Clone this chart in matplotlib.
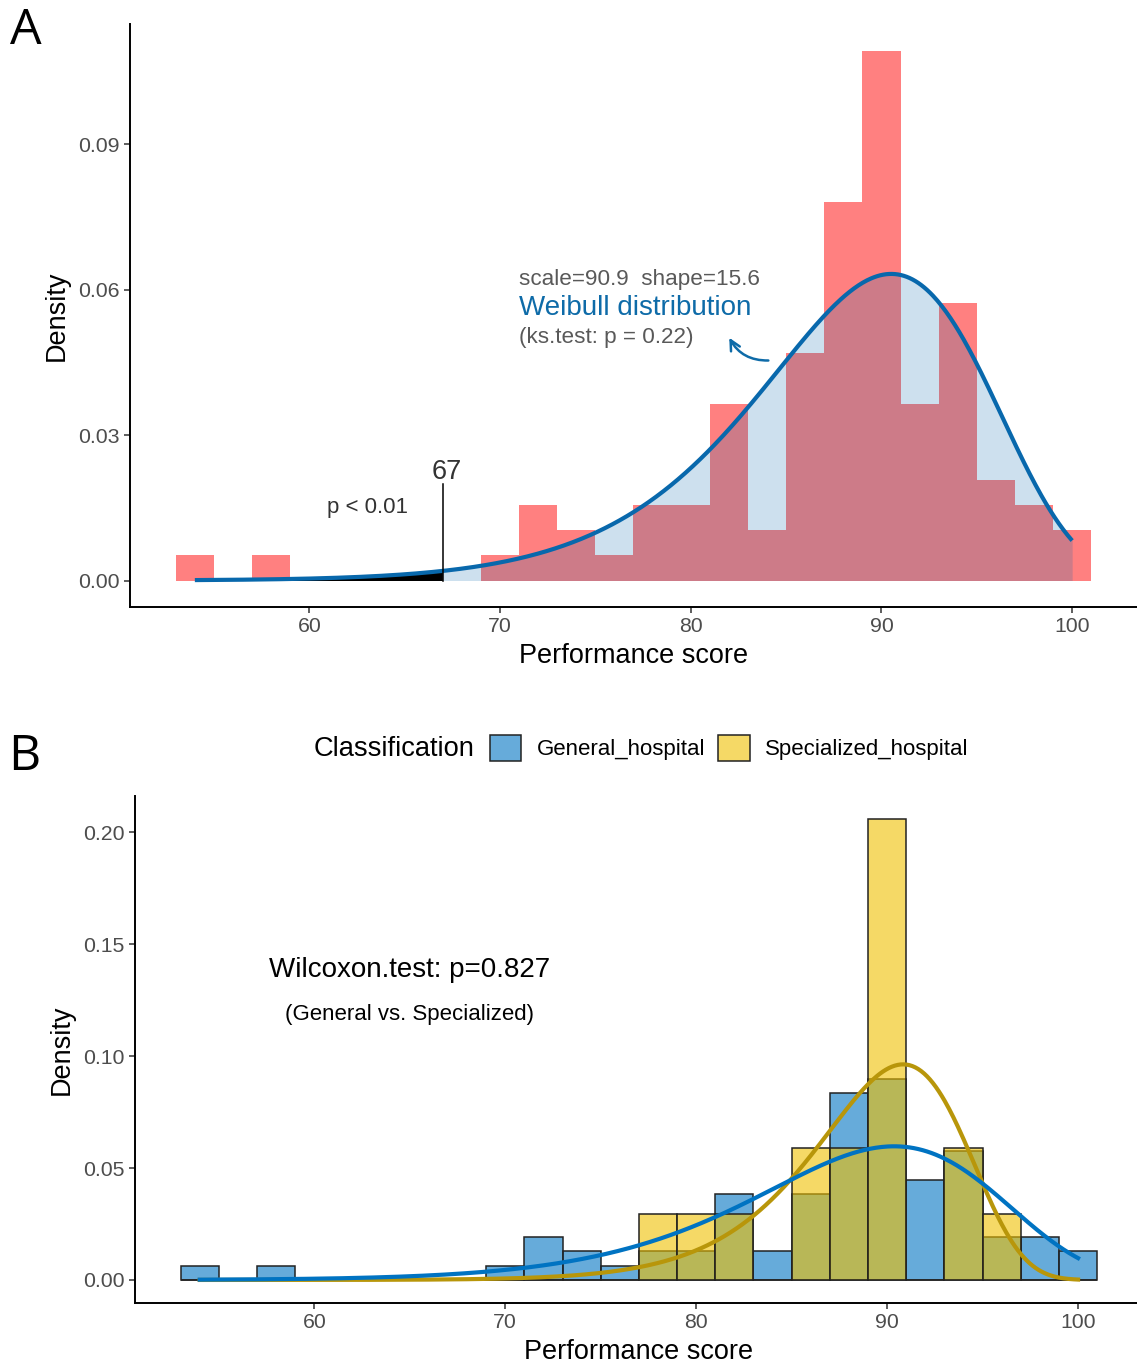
import numpy as np
import matplotlib
matplotlib.use("Agg")
import matplotlib.pyplot as plt
from matplotlib.patches import Patch

plt.rcParams['font.family'] = ['Liberation Sans', 'DejaVu Sans']

# ---------------- data ----------------
bin_left = [53, 55, 57, 59, 61, 63, 65, 67, 69, 71, 73, 75,
            77, 79, 81, 83, 85, 87, 89, 91, 93, 95, 97, 99]
bin_width = 2

# Panel A: all hospitals (counts per bin)
all_counts = [1, 0, 1, 0, 0, 0, 0, 0, 1, 3, 2, 1,
              3, 3, 7, 2, 9, 15, 21, 7, 11, 4, 3, 2]
# Panel B: per classification
general_counts = [1, 0, 1, 0, 0, 0, 0, 0, 1, 3, 2, 1,
                  2, 2, 6, 2, 6, 13, 14, 7, 9, 3, 3, 2]
special_counts = [0, 0, 0, 0, 0, 0, 0, 0, 0, 0, 0, 0,
                  1, 1, 1, 0, 2, 2, 7, 0, 2, 1, 0, 0]

# Weibull fits (scale, shape)
weib_all = (90.9, 15.6)
weib_general = (90.8, 14.7)
weib_special = (91.0, 23.8)
score_min, score_max = 54, 100
cutoff = 67

x_ticks = [60, 70, 80, 90, 100]
yticks_A = [0.00, 0.03, 0.06, 0.09]
yticks_B = [0.00, 0.05, 0.10, 0.15, 0.20]

# ---------------- helpers ----------------
def density(counts):
    c = np.asarray(counts, float)
    return c / (c.sum() * bin_width)

def weibull_pdf(x, scale, shape):
    z = x / scale
    return (shape / scale) * z ** (shape - 1) * np.exp(-z ** shape)

W, H = 1137, 1364
fig = plt.figure(figsize=(W / 100, H / 100), dpi=100)

def style_axes(ax, yticks):
    for s in ['top', 'right']:
        ax.spines[s].set_visible(False)
    for s in ['left', 'bottom']:
        ax.spines[s].set_linewidth(1.4)
        ax.spines[s].set_color('black')
    ax.tick_params(direction='out', length=4, width=1.1, color='#333333',
                   labelsize=15.3, labelcolor='#4D4D4D', pad=3.5)
    ax.set_xticks(x_ticks)
    ax.set_xticklabels([str(v) for v in x_ticks])
    ax.set_yticks(yticks)
    ax.set_yticklabels([f"{v:.2f}" for v in yticks])
    ax.set_xlim(50.6, 103.4)
    ax.set_xlabel("Performance score", fontsize=19.5, labelpad=5)
    ax.set_ylabel("Density", fontsize=19.5, labelpad=6)

# ---------------- Panel A ----------------
axA = fig.add_axes([130 / W, 1 - 607 / H, 1007 / W, 583 / H])
dA = density(all_counts)
axA.bar(bin_left, dA, width=bin_width, align='edge', color='#FF8080',
        edgecolor='none', zorder=1)
xs = np.linspace(score_min, score_max, 600)
ys = weibull_pdf(xs, *weib_all)
axA.fill_between(xs, 0, ys, color='#0868AC', alpha=0.2, lw=0, zorder=2)
m = xs <= cutoff
axA.fill_between(xs[m], 0, ys[m], color='black', lw=0, zorder=3)
axA.plot(xs, ys, color='#0868AC', lw=3, zorder=4, solid_capstyle='butt')
axA.plot([cutoff, cutoff], [0, 0.020], color='black', lw=1.1, zorder=4)
axA.text(cutoff + 0.2, 0.0223, str(cutoff), fontsize=19.5, color='#333333',
         ha='center', va='center')
axA.text(63.05, 0.0151, "p < 0.01", fontsize=16, color='#333333',
         ha='center', va='center')
axA.text(71.0, 0.0621, "scale=90.9  shape=15.6", fontsize=16.2,
         color='#595959', ha='left', va='center')
axA.text(71.0, 0.0562, "Weibull distribution", fontsize=20,
         color='#0E6BA8', ha='left', va='center')
axA.text(71.0, 0.0502, "(ks.test: p = 0.22)", fontsize=16.2,
         color='#595959', ha='left', va='center')
axA.annotate("", xy=(82.02, 0.0501), xytext=(84.07, 0.0454),
             arrowprops=dict(arrowstyle='->', color='#0E6BA8', lw=1.8,
                             connectionstyle='arc3,rad=-0.3',
                             mutation_scale=18, shrinkA=0, shrinkB=0))
maxA = dA.max()
axA.set_ylim(-0.05 * maxA, 1.05 * maxA)
style_axes(axA, yticks_A)

# ---------------- Panel B ----------------
axB = fig.add_axes([134.8 / W, 1 - 1303 / H, (1143 - 134.8) / W, 507 / H])
dG = density(general_counts)
dS = density(special_counts)
blue = (0 / 255, 115 / 255, 194 / 255)
yellow = (239 / 255, 192 / 255, 0 / 255)
axB.bar(bin_left, dG, width=bin_width, align='edge',
        facecolor=blue + (0.6,), edgecolor='#222222', lw=1.1, zorder=1)
axB.bar(bin_left, dS, width=bin_width, align='edge',
        facecolor=yellow + (0.6,), edgecolor='#222222', lw=1.1, zorder=2)
axB.plot(xs, weibull_pdf(xs, *weib_special), color='#B8960A', lw=3, zorder=3)
axB.plot(xs, weibull_pdf(xs, *weib_general), color='#0073C2', lw=3, zorder=4)
axB.text(65, 0.1385, "Wilcoxon.test: p=0.827", fontsize=20, color='black',
         ha='center', va='center')
axB.text(65, 0.1187, "(General vs. Specialized)", fontsize=16,
         color='black', ha='center', va='center')
maxB = max(dG.max(), dS.max())
axB.set_ylim(-0.05 * maxB, 1.05 * maxB)
style_axes(axB, yticks_B)

# legend
fig.text(314 / W, 1 - 749 / H, "Classification", fontsize=19.6, ha='left',
         va='center')
handles = [Patch(facecolor=blue + (0.6,), edgecolor='#222222', lw=1.1),
           Patch(facecolor=yellow + (0.6,), edgecolor='#222222', lw=1.1)]
fig.legend(handles, ["General_hospital", "Specialized_hospital"], ncol=2,
           loc='center left', bbox_to_anchor=(490 / W, 1 - 748 / H),
           frameon=False, fontsize=16, handlelength=1.41, handleheight=1.41,
           handletextpad=0.68, columnspacing=0.6, borderpad=0,
           borderaxespad=0)

# panel letters
fig.text(10 / W, 1 - 31 / H, "A", fontsize=36, family='Open Sans',
         ha='left', va='center')
fig.text(8 / W, 1 - 757 / H, "B", fontsize=36, family='Open Sans',
         ha='left', va='center')

fig.savefig("out.png", dpi=100)
